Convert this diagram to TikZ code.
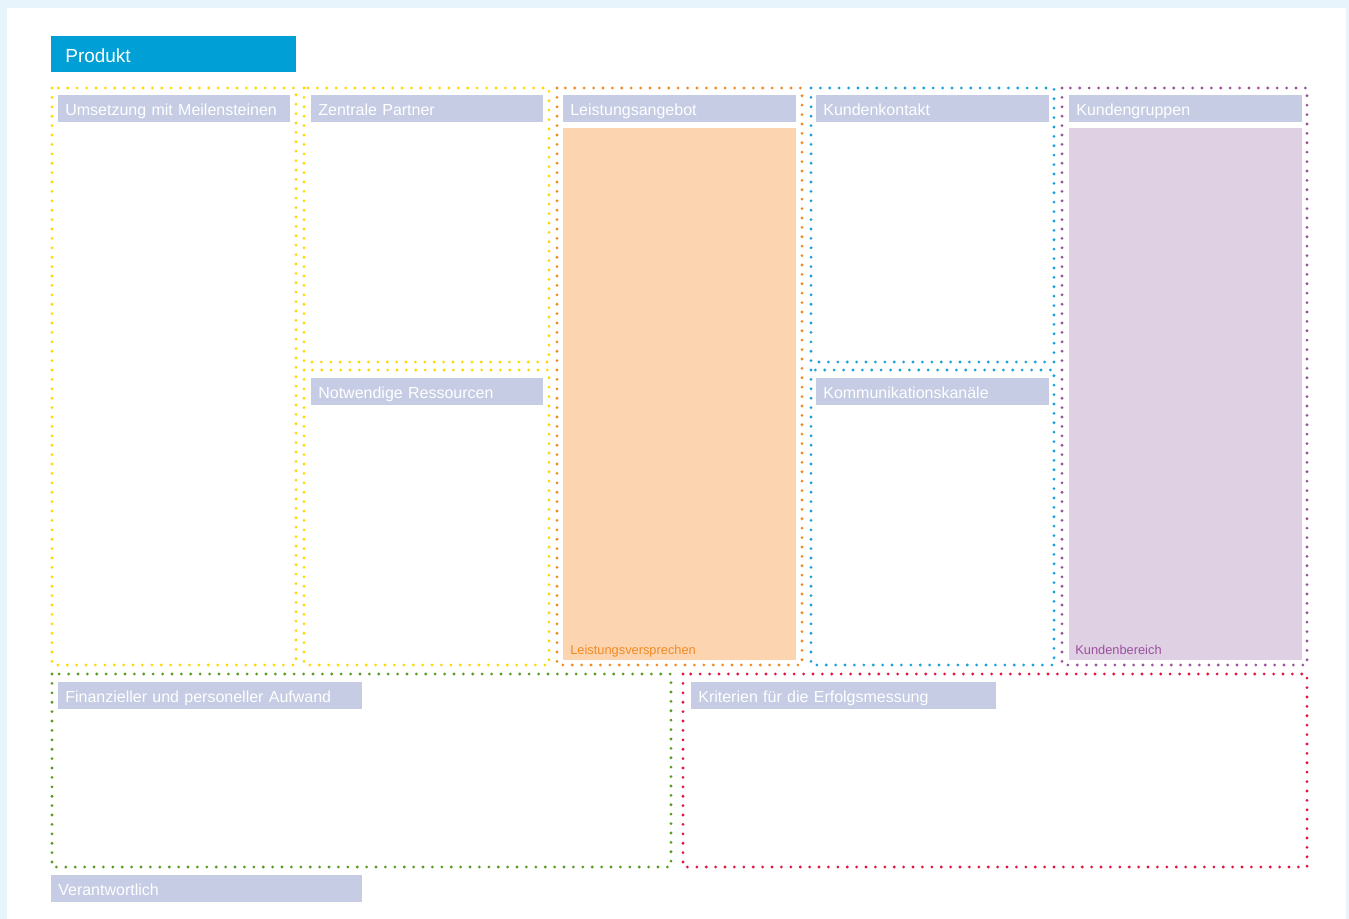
\documentclass[tikz,border=0pt]{standalone}
\usepackage{fontspec}
\newfontfamily\arialfont{Liberation Sans}
\definecolor{pagebg}{HTML}{E8F4FC}
\definecolor{headblue}{HTML}{00A0D6}
\definecolor{lblfill}{HTML}{C5CCE4}
\definecolor{dotyellow}{HTML}{FFD800}
\definecolor{dotorange}{HTML}{F08A24}
\definecolor{dotblue}{HTML}{1AA0DA}
\definecolor{dotpurple}{HTML}{9B4F9E}
\definecolor{dotgreen}{HTML}{5A9A20}
\definecolor{dotred}{HTML}{E2133C}
\definecolor{orangefill}{HTML}{FCD5B0}
\definecolor{purplefill}{HTML}{E0D0E4}

\begin{document}
\begin{tikzpicture}[x=0.2mm, y=-0.2mm, every node/.style={font=\arialfont},
	dots/.style={line width=0.62mm, line cap=round, dash pattern=on 0pt off 1.88mm},
	lbl/.style={fill=lblfill, text=white, anchor=north west, align=left, minimum height=5.4mm, text height=3mm, text depth=0.4mm, inner xsep=1.4mm, inner ysep=0pt, font=\arialfont\fontsize{9.1pt}{10pt}\selectfont},
	note/.style={anchor=base west, inner sep=0pt, font=\arialfont\fontsize{7.3pt}{8pt}\selectfont}]
	% page
	\fill[pagebg] (0,0) rectangle (1349,919);
	\fill[white] (7,8) rectangle (1346,919);
	\useasboundingbox (0,0) rectangle (1349,919);

	\node[fill=headblue, text=white, anchor=north west, align=left, minimum height=7.2mm, text height=3.6mm, text depth=0.4mm, inner xsep=2.8mm, inner ysep=0pt, text width=43.4mm, font=\arialfont\fontsize{10.8pt}{12pt}\selectfont] (head) at (51,36) {Produkt};

	% filled columns
	\fill[orangefill] (563,128) rectangle (796,660);
	\fill[purplefill] (1069,128) rectangle (1302,660);

	% dotted frames
	\foreach \xa/\ya/\xb/\yb/\c in {52/88/296/665/dotyellow, 304/88/549/362/dotyellow, 304/370/549/665/dotyellow,
		557/88/802/665/dotorange, 811/88/1054/362/dotblue, 811/370/1054/665/dotblue,
		1062/88/1307/665/dotpurple, 52/674/671/867/dotgreen, 683/674/1307/867/dotred} {
		\draw[dots, \c] (\xa,\ya) rectangle (\xb,\yb);
	}

	% labels
	\node[lbl, text width=43.6mm] (umsetzung) at (58,95) {Umsetzung mit Meilensteinen};
	\node[lbl, text width=43.6mm] (partner) at (311,95) {Zentrale Partner};
	\node[lbl, text width=43.8mm] (angebot) at (563,95) {Leistungsangebot};
	\node[lbl, text width=43.8mm] (kontakt) at (816,95) {Kundenkontakt};
	\node[lbl, text width=43.8mm] (gruppen) at (1069,95) {Kundengruppen};
	\node[lbl, text width=43.6mm] (ressourcen) at (311,378) {Notwendige Ressourcen};
	\node[lbl, text width=43.8mm] (kanaele) at (816,378) {Kommunikationskanäle};
	\node[lbl, text width=58mm] (aufwand) at (58,682) {Finanzieller und personeller Aufwand};
	\node[lbl, text width=58.2mm] (kriterien) at (691,682) {Kriterien für die Erfolgsmessung};
	\node[lbl, text width=59.4mm] (verantw) at (51,875) {Verantwortlich};

	\node[note, text=dotorange] (versprechen) at (570,654) {Leistungsversprechen};
	\node[note, text=dotpurple] (bereich) at (1075,654) {Kundenbereich};
\end{tikzpicture}
\end{document}
